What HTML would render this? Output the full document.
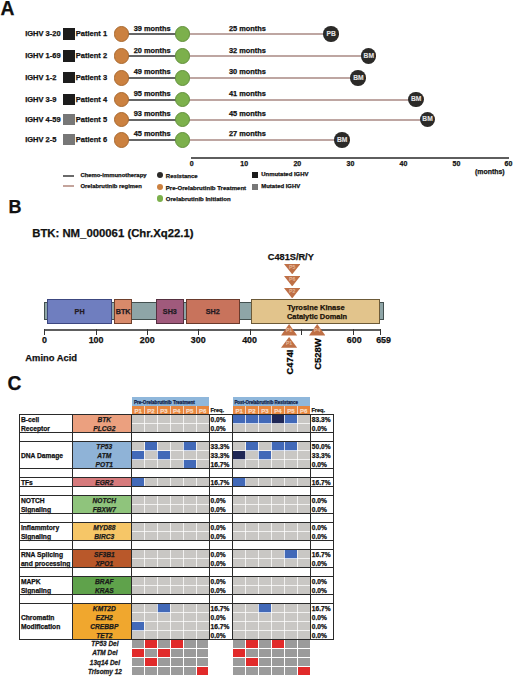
<!DOCTYPE html>
<html><head><meta charset="utf-8"><style>
html,body{margin:0;padding:0;background:#fff;}
body{width:520px;height:677px;position:relative;overflow:hidden;font-family:"Liberation Sans",sans-serif;}
.t{position:absolute;white-space:nowrap;line-height:1;font-weight:bold;-webkit-text-stroke:0.25px currentColor;}
.r{position:absolute;}
</style></head><body>
<div class="t" style="left:0.60px;top:-1.26px;font-size:19.3px;color:#111;">A</div>
<div class="t" style="left:25.20px;top:30.41px;font-size:7.5px;color:#111;">IGHV 3-20</div>
<div class="r" style="left:63.20px;top:28.20px;width:11.40px;height:11.40px;background:#1c1c1c;"></div>
<div class="t" style="left:75.80px;top:30.41px;font-size:7.5px;color:#111;">Patient 1</div>
<div class="r" style="left:121.80px;top:33.00px;width:60.70px;height:2.00px;background:#666666;"></div>
<div class="r" style="left:182.50px;top:33.00px;width:148.50px;height:2.00px;background:#bea6a2;"></div>
<div class="r" style="left:113.85px;top:26.25px;width:15.50px;height:15.50px;border-radius:50%;background:#cb8140;box-sizing:border-box;border:0.8px solid #a9692f;"></div>
<div class="r" style="left:174.85px;top:26.25px;width:15.50px;height:15.50px;border-radius:50%;background:#7cb04c;box-sizing:border-box;border:0.8px solid #62903c;"></div>
<div class="r" style="left:323.25px;top:26.25px;width:15.50px;height:15.50px;border-radius:50%;background:#2b2a28;"></div>
<div class="t" style="left:331.20px;top:30.74px;font-size:6.7px;color:#e4e4e4;transform:translateX(-50%);-webkit-text-stroke:0.1px #e4e4e4;">PB</div>
<div class="t" style="left:133.70px;top:24.63px;font-size:7.4px;color:#111;">39 months</div>
<div class="t" style="left:229.00px;top:24.63px;font-size:7.4px;color:#111;">25 months</div>
<div class="t" style="left:25.20px;top:52.41px;font-size:7.5px;color:#111;">IGHV 1-69</div>
<div class="r" style="left:63.20px;top:50.20px;width:11.40px;height:11.40px;background:#1c1c1c;"></div>
<div class="t" style="left:75.80px;top:52.41px;font-size:7.5px;color:#111;">Patient 2</div>
<div class="r" style="left:121.80px;top:55.00px;width:60.70px;height:2.00px;background:#666666;"></div>
<div class="r" style="left:182.50px;top:55.00px;width:186.10px;height:2.00px;background:#bea6a2;"></div>
<div class="r" style="left:113.85px;top:48.25px;width:15.50px;height:15.50px;border-radius:50%;background:#cb8140;box-sizing:border-box;border:0.8px solid #a9692f;"></div>
<div class="r" style="left:174.85px;top:48.25px;width:15.50px;height:15.50px;border-radius:50%;background:#7cb04c;box-sizing:border-box;border:0.8px solid #62903c;"></div>
<div class="r" style="left:360.85px;top:48.25px;width:15.50px;height:15.50px;border-radius:50%;background:#2b2a28;"></div>
<div class="t" style="left:368.80px;top:52.74px;font-size:6.7px;color:#e4e4e4;transform:translateX(-50%);-webkit-text-stroke:0.1px #e4e4e4;">BM</div>
<div class="t" style="left:133.70px;top:46.63px;font-size:7.4px;color:#111;">20 months</div>
<div class="t" style="left:229.00px;top:46.63px;font-size:7.4px;color:#111;">32 months</div>
<div class="t" style="left:25.20px;top:74.21px;font-size:7.5px;color:#111;">IGHV 1-2</div>
<div class="r" style="left:63.20px;top:72.00px;width:11.40px;height:11.40px;background:#1c1c1c;"></div>
<div class="t" style="left:75.80px;top:74.21px;font-size:7.5px;color:#111;">Patient 3</div>
<div class="r" style="left:121.80px;top:77.00px;width:60.70px;height:2.00px;background:#666666;"></div>
<div class="r" style="left:182.50px;top:77.00px;width:175.70px;height:2.00px;background:#bea6a2;"></div>
<div class="r" style="left:113.85px;top:70.05px;width:15.50px;height:15.50px;border-radius:50%;background:#cb8140;box-sizing:border-box;border:0.8px solid #a9692f;"></div>
<div class="r" style="left:174.85px;top:70.05px;width:15.50px;height:15.50px;border-radius:50%;background:#7cb04c;box-sizing:border-box;border:0.8px solid #62903c;"></div>
<div class="r" style="left:350.45px;top:70.05px;width:15.50px;height:15.50px;border-radius:50%;background:#2b2a28;"></div>
<div class="t" style="left:358.40px;top:74.54px;font-size:6.7px;color:#e4e4e4;transform:translateX(-50%);-webkit-text-stroke:0.1px #e4e4e4;">BM</div>
<div class="t" style="left:133.70px;top:68.43px;font-size:7.4px;color:#111;">49 months</div>
<div class="t" style="left:229.00px;top:68.43px;font-size:7.4px;color:#111;">30 months</div>
<div class="t" style="left:25.20px;top:96.01px;font-size:7.5px;color:#111;">IGHV 3-9</div>
<div class="r" style="left:63.20px;top:93.80px;width:11.40px;height:11.40px;background:#1c1c1c;"></div>
<div class="t" style="left:75.80px;top:96.01px;font-size:7.5px;color:#111;">Patient 4</div>
<div class="r" style="left:121.80px;top:99.00px;width:60.70px;height:2.00px;background:#666666;"></div>
<div class="r" style="left:182.50px;top:99.00px;width:233.50px;height:2.00px;background:#bea6a2;"></div>
<div class="r" style="left:113.85px;top:91.85px;width:15.50px;height:15.50px;border-radius:50%;background:#cb8140;box-sizing:border-box;border:0.8px solid #a9692f;"></div>
<div class="r" style="left:174.85px;top:91.85px;width:15.50px;height:15.50px;border-radius:50%;background:#7cb04c;box-sizing:border-box;border:0.8px solid #62903c;"></div>
<div class="r" style="left:408.25px;top:91.85px;width:15.50px;height:15.50px;border-radius:50%;background:#2b2a28;"></div>
<div class="t" style="left:416.20px;top:96.34px;font-size:6.7px;color:#e4e4e4;transform:translateX(-50%);-webkit-text-stroke:0.1px #e4e4e4;">BM</div>
<div class="t" style="left:133.70px;top:90.23px;font-size:7.4px;color:#111;">95 months</div>
<div class="t" style="left:229.00px;top:90.23px;font-size:7.4px;color:#111;">41 months</div>
<div class="t" style="left:25.20px;top:115.91px;font-size:7.5px;color:#111;">IGHV 4-59</div>
<div class="r" style="left:63.20px;top:113.70px;width:11.40px;height:11.40px;background:#777;"></div>
<div class="t" style="left:75.80px;top:115.91px;font-size:7.5px;color:#111;">Patient 5</div>
<div class="r" style="left:121.80px;top:119.00px;width:60.70px;height:2.00px;background:#666666;"></div>
<div class="r" style="left:182.50px;top:119.00px;width:244.80px;height:2.00px;background:#bea6a2;"></div>
<div class="r" style="left:113.85px;top:111.75px;width:15.50px;height:15.50px;border-radius:50%;background:#cb8140;box-sizing:border-box;border:0.8px solid #a9692f;"></div>
<div class="r" style="left:174.85px;top:111.75px;width:15.50px;height:15.50px;border-radius:50%;background:#7cb04c;box-sizing:border-box;border:0.8px solid #62903c;"></div>
<div class="r" style="left:419.55px;top:111.75px;width:15.50px;height:15.50px;border-radius:50%;background:#2b2a28;"></div>
<div class="t" style="left:427.50px;top:116.24px;font-size:6.7px;color:#e4e4e4;transform:translateX(-50%);-webkit-text-stroke:0.1px #e4e4e4;">BM</div>
<div class="t" style="left:133.70px;top:110.13px;font-size:7.4px;color:#111;">93 months</div>
<div class="t" style="left:229.00px;top:110.13px;font-size:7.4px;color:#111;">45 months</div>
<div class="t" style="left:25.20px;top:136.21px;font-size:7.5px;color:#111;">IGHV 2-5</div>
<div class="r" style="left:63.20px;top:134.00px;width:11.40px;height:11.40px;background:#777;"></div>
<div class="t" style="left:75.80px;top:136.21px;font-size:7.5px;color:#111;">Patient 6</div>
<div class="r" style="left:121.80px;top:139.00px;width:60.70px;height:2.00px;background:#666666;"></div>
<div class="r" style="left:182.50px;top:139.00px;width:159.50px;height:2.00px;background:#bea6a2;"></div>
<div class="r" style="left:113.85px;top:132.05px;width:15.50px;height:15.50px;border-radius:50%;background:#cb8140;box-sizing:border-box;border:0.8px solid #a9692f;"></div>
<div class="r" style="left:174.85px;top:132.05px;width:15.50px;height:15.50px;border-radius:50%;background:#7cb04c;box-sizing:border-box;border:0.8px solid #62903c;"></div>
<div class="r" style="left:334.25px;top:132.05px;width:15.50px;height:15.50px;border-radius:50%;background:#2b2a28;"></div>
<div class="t" style="left:342.20px;top:136.54px;font-size:6.7px;color:#e4e4e4;transform:translateX(-50%);-webkit-text-stroke:0.1px #e4e4e4;">BM</div>
<div class="t" style="left:133.70px;top:130.43px;font-size:7.4px;color:#111;">45 months</div>
<div class="t" style="left:229.00px;top:130.43px;font-size:7.4px;color:#111;">27 months</div>
<div class="r" style="left:190.50px;top:157.00px;width:318.50px;height:2.00px;background:#5e5e5e;"></div>
<div class="t" style="left:191.60px;top:159.69px;font-size:7.0px;color:#111;transform:translateX(-50%);">0</div>
<div class="t" style="left:244.20px;top:159.69px;font-size:7.0px;color:#111;transform:translateX(-50%);">10</div>
<div class="t" style="left:297.30px;top:159.69px;font-size:7.0px;color:#111;transform:translateX(-50%);">20</div>
<div class="t" style="left:350.50px;top:159.69px;font-size:7.0px;color:#111;transform:translateX(-50%);">30</div>
<div class="t" style="left:403.50px;top:159.69px;font-size:7.0px;color:#111;transform:translateX(-50%);">40</div>
<div class="t" style="left:456.50px;top:159.69px;font-size:7.0px;color:#111;transform:translateX(-50%);">50</div>
<div class="t" style="left:508.50px;top:159.69px;font-size:7.0px;color:#111;transform:translateX(-50%);">60</div>
<div class="t" style="left:475.00px;top:168.50px;font-size:6.95px;color:#111;">(months)</div>
<div class="r" style="left:62.90px;top:175.00px;width:10.80px;height:2.00px;background:#6a6a6a;"></div>
<div class="r" style="left:62.90px;top:185.30px;width:10.80px;height:1.50px;background:#c4a49c;"></div>
<div class="t" style="left:80.40px;top:173.16px;font-size:5.9px;color:#111;">Chemo-immunotherapy</div>
<div class="t" style="left:80.40px;top:183.76px;font-size:5.9px;color:#111;">Orelabrutinib regimen</div>
<div class="r" style="left:156.75px;top:171.75px;width:6.30px;height:6.30px;border-radius:50%;background:#2b2a28;"></div>
<div class="r" style="left:156.75px;top:183.75px;width:6.30px;height:6.30px;border-radius:50%;background:#cb8140;"></div>
<div class="r" style="left:156.75px;top:195.35px;width:6.30px;height:6.30px;border-radius:50%;background:#7cb04c;"></div>
<div class="t" style="left:165.80px;top:172.94px;font-size:6.05px;color:#111;">Resistance</div>
<div class="t" style="left:165.80px;top:184.54px;font-size:6.05px;color:#111;">Pre-Orelabrutinib Treatment</div>
<div class="t" style="left:165.80px;top:196.14px;font-size:6.05px;color:#111;">Orelabrutinib Initiation</div>
<div class="r" style="left:252.40px;top:172.00px;width:5.80px;height:6.00px;background:#1c1c1c;"></div>
<div class="r" style="left:252.40px;top:183.50px;width:5.80px;height:6.00px;background:#777;"></div>
<div class="t" style="left:261.30px;top:172.26px;font-size:5.95px;color:#111;">Unmutated IGHV</div>
<div class="t" style="left:261.30px;top:183.56px;font-size:5.95px;color:#111;">Mutated IGHV</div>
<div class="t" style="left:8.40px;top:197.84px;font-size:18.0px;color:#111;">B</div>
<div class="t" style="left:32.20px;top:227.70px;font-size:11.35px;color:#111;">BTK: NM_000061 (Chr.Xq22.1)</div>
<div class="r" style="left:43.80px;top:302.30px;width:340.40px;height:17.80px;background:#8ea5a7;box-sizing:border-box;border:1.4px solid #43504f;"></div>
<div class="r" style="left:46.90px;top:299.30px;width:65.40px;height:24.40px;background:#6f7ebf;box-sizing:border-box;border:1.3px solid #3c4780;"></div>
<div class="t" style="left:79.60px;top:308.06px;font-size:7.2px;color:#221a22;transform:translateX(-50%);">PH</div>
<div class="r" style="left:114.00px;top:299.30px;width:18.30px;height:24.40px;background:#d88a6a;box-sizing:border-box;border:1.3px solid #6e3f2c;"></div>
<div class="t" style="left:123.15px;top:308.06px;font-size:7.2px;color:#221a22;transform:translateX(-50%);">BTK</div>
<div class="r" style="left:155.60px;top:299.30px;width:28.50px;height:24.40px;background:#a05a7c;box-sizing:border-box;border:1.3px solid #553040;"></div>
<div class="t" style="left:169.85px;top:308.06px;font-size:7.2px;color:#221a22;transform:translateX(-50%);">SH3</div>
<div class="r" style="left:185.60px;top:299.30px;width:54.20px;height:24.40px;background:#c8735c;box-sizing:border-box;border:1.3px solid #6a3a2c;"></div>
<div class="t" style="left:212.70px;top:308.06px;font-size:7.2px;color:#221a22;transform:translateX(-50%);">SH2</div>
<div class="r" style="left:251.20px;top:299.30px;width:128.50px;height:24.40px;background:#e2c48c;box-sizing:border-box;border:1.3px solid #6c5a38;"></div>
<div class="t" style="left:287.20px;top:304.41px;font-size:7.5px;color:#1a1208;">Tyrosine Kinase</div>
<div class="t" style="left:287.00px;top:313.33px;font-size:7.4px;color:#1a1208;">Catalytic Domain</div>
<div class="r" style="left:44.60px;top:329.00px;width:336.00px;height:2.00px;background:#5e5e5e;"></div>
<div class="r" style="left:44.00px;top:329.00px;width:1.30px;height:6.00px;background:#333;"></div>
<div class="r" style="left:95.60px;top:329.00px;width:1.30px;height:6.00px;background:#333;"></div>
<div class="r" style="left:146.70px;top:329.00px;width:1.30px;height:6.00px;background:#333;"></div>
<div class="r" style="left:197.70px;top:329.00px;width:1.30px;height:6.00px;background:#333;"></div>
<div class="r" style="left:249.60px;top:329.00px;width:1.30px;height:6.00px;background:#333;"></div>
<div class="r" style="left:301.00px;top:329.00px;width:1.30px;height:6.00px;background:#333;"></div>
<div class="r" style="left:352.90px;top:329.00px;width:1.30px;height:6.00px;background:#333;"></div>
<div class="r" style="left:379.70px;top:329.00px;width:1.30px;height:6.00px;background:#333;"></div>
<div class="t" style="left:44.50px;top:336.49px;font-size:8.9px;color:#111;transform:translateX(-50%);">0</div>
<div class="t" style="left:96.10px;top:336.49px;font-size:8.9px;color:#111;transform:translateX(-50%);">100</div>
<div class="t" style="left:147.20px;top:336.49px;font-size:8.9px;color:#111;transform:translateX(-50%);">200</div>
<div class="t" style="left:198.20px;top:336.49px;font-size:8.9px;color:#111;transform:translateX(-50%);">300</div>
<div class="t" style="left:249.60px;top:336.49px;font-size:8.9px;color:#111;transform:translateX(-50%);">400</div>
<div class="t" style="left:354.20px;top:336.49px;font-size:8.9px;color:#111;transform:translateX(-50%);">600</div>
<div class="t" style="left:383.60px;top:336.49px;font-size:8.9px;color:#111;transform:translateX(-50%);">659</div>
<div class="t" style="left:25.30px;top:353.01px;font-size:9.4px;color:#111;">Amino Acid</div>
<svg class="r" style="left:284.00px;top:263.50px" width="16.40" height="10.30" viewBox="0 0 16.40 10.30"><polygon points="0,0 16.4,0 8.2,10.300000000000011" fill="#bf7046"/><text x="8.20" y="5.00" font-size="5.2" fill="#e6b899" text-anchor="middle" font-family="Liberation Sans" font-weight="bold">P5</text></svg>
<svg class="r" style="left:284.00px;top:275.60px" width="16.40" height="10.40" viewBox="0 0 16.40 10.40"><polygon points="0,0 16.4,0 8.2,10.399999999999977" fill="#bf7046"/><text x="8.20" y="5.00" font-size="5.2" fill="#e6b899" text-anchor="middle" font-family="Liberation Sans" font-weight="bold">P6</text></svg>
<svg class="r" style="left:284.00px;top:287.90px" width="16.40" height="10.40" viewBox="0 0 16.40 10.40"><polygon points="0,0 16.4,0 8.2,10.400000000000034" fill="#bf7046"/><text x="8.20" y="5.00" font-size="5.2" fill="#e6b899" text-anchor="middle" font-family="Liberation Sans" font-weight="bold">P2</text></svg>
<svg class="r" style="left:280.80px;top:324.00px" width="16.20" height="11.50" viewBox="0 0 16.20 11.50"><polygon points="8.1,0 16.2,11.5 0,11.5" fill="#bf7046"/><text x="8.10" y="8.50" font-size="5.2" fill="#e6b899" text-anchor="middle" font-family="Liberation Sans" font-weight="bold">P1</text></svg>
<svg class="r" style="left:280.80px;top:336.80px" width="16.20" height="10.80" viewBox="0 0 16.20 10.80"><polygon points="8.1,0 16.2,10.800000000000011 0,10.800000000000011" fill="#bf7046"/><text x="8.10" y="7.80" font-size="5.2" fill="#e6b899" text-anchor="middle" font-family="Liberation Sans" font-weight="bold">P1</text></svg>
<svg class="r" style="left:308.80px;top:324.00px" width="16.40" height="11.50" viewBox="0 0 16.40 11.50"><polygon points="8.2,0 16.4,11.5 0,11.5" fill="#bf7046"/><text x="8.20" y="8.50" font-size="5.2" fill="#e6b899" text-anchor="middle" font-family="Liberation Sans" font-weight="bold">P4</text></svg>
<div class="t" style="left:267.80px;top:252.74px;font-size:9.2px;color:#111;">C481S/R/Y</div>
<div class="t" style="left:290.5px;top:362.4px;font-size:9.3px;transform:translate(-50%,-50%) rotate(-90deg);">C474I</div>
<div class="t" style="left:317.9px;top:353.5px;font-size:9.5px;transform:translate(-50%,-50%) rotate(-90deg);">C528W</div>
<div class="t" style="left:7.60px;top:374.34px;font-size:19.3px;color:#111;">C</div>
<div class="r" style="left:131.60px;top:396.70px;width:77.40px;height:9.20px;background:#8fb7db;"></div>
<div class="r" style="left:232.60px;top:396.90px;width:77.60px;height:9.00px;background:#8fb7db;"></div>
<div class="t" style="left:133.90px;top:400.67px;font-size:4.6px;color:#14244a;">Pre-Orelabrutinib Treatment</div>
<div class="t" style="left:234.40px;top:400.79px;font-size:4.45px;color:#14244a;">Post-Orelabrutinib Resistance</div>
<div class="r" style="left:131.60px;top:406.20px;width:77.40px;height:8.00px;background:#e8873f;"></div>
<div class="t" style="left:138.05px;top:407.65px;font-size:6.0px;color:#f8dcc6;transform:translateX(-50%);">P1</div>
<div class="r" style="left:144.00px;top:406.10px;width:1.00px;height:8.00px;background:#f6d2b8;"></div>
<div class="t" style="left:150.95px;top:407.65px;font-size:6.0px;color:#f8dcc6;transform:translateX(-50%);">P2</div>
<div class="r" style="left:156.90px;top:406.10px;width:1.00px;height:8.00px;background:#f6d2b8;"></div>
<div class="t" style="left:163.85px;top:407.65px;font-size:6.0px;color:#f8dcc6;transform:translateX(-50%);">P3</div>
<div class="r" style="left:169.80px;top:406.10px;width:1.00px;height:8.00px;background:#f6d2b8;"></div>
<div class="t" style="left:176.75px;top:407.65px;font-size:6.0px;color:#f8dcc6;transform:translateX(-50%);">P4</div>
<div class="r" style="left:182.70px;top:406.10px;width:1.00px;height:8.00px;background:#f6d2b8;"></div>
<div class="t" style="left:189.65px;top:407.65px;font-size:6.0px;color:#f8dcc6;transform:translateX(-50%);">P5</div>
<div class="r" style="left:195.60px;top:406.10px;width:1.00px;height:8.00px;background:#f6d2b8;"></div>
<div class="t" style="left:202.55px;top:407.65px;font-size:6.0px;color:#f8dcc6;transform:translateX(-50%);">P6</div>
<div class="r" style="left:232.60px;top:406.20px;width:77.60px;height:8.00px;background:#e8873f;"></div>
<div class="t" style="left:239.07px;top:407.65px;font-size:6.0px;color:#f8dcc6;transform:translateX(-50%);">P1</div>
<div class="r" style="left:245.03px;top:406.10px;width:1.00px;height:8.00px;background:#f6d2b8;"></div>
<div class="t" style="left:252.00px;top:407.65px;font-size:6.0px;color:#f8dcc6;transform:translateX(-50%);">P2</div>
<div class="r" style="left:257.97px;top:406.10px;width:1.00px;height:8.00px;background:#f6d2b8;"></div>
<div class="t" style="left:264.93px;top:407.65px;font-size:6.0px;color:#f8dcc6;transform:translateX(-50%);">P3</div>
<div class="r" style="left:270.90px;top:406.10px;width:1.00px;height:8.00px;background:#f6d2b8;"></div>
<div class="t" style="left:277.87px;top:407.65px;font-size:6.0px;color:#f8dcc6;transform:translateX(-50%);">P4</div>
<div class="r" style="left:283.83px;top:406.10px;width:1.00px;height:8.00px;background:#f6d2b8;"></div>
<div class="t" style="left:290.80px;top:407.65px;font-size:6.0px;color:#f8dcc6;transform:translateX(-50%);">P5</div>
<div class="r" style="left:296.77px;top:406.10px;width:1.00px;height:8.00px;background:#f6d2b8;"></div>
<div class="t" style="left:303.73px;top:407.65px;font-size:6.0px;color:#f8dcc6;transform:translateX(-50%);">P6</div>
<div class="t" style="left:210.40px;top:408.41px;font-size:5.6px;color:#111;">Freq.</div>
<div class="t" style="left:311.40px;top:408.41px;font-size:5.6px;color:#111;">Freq.</div>
<div class="r" style="left:72.60px;top:414.60px;width:59.00px;height:18.00px;background:#eba07f;"></div>
<div class="t" style="left:20.90px;top:415.34px;font-size:6.7px;color:#111;line-height:9.1px;">B-cell<br>Receptor</div>
<div class="t" style="left:104.30px;top:416.94px;font-size:6.65px;color:#1a1a1a;font-style:italic;transform:translateX(-50%);">BTK</div>
<div class="r" style="left:131.60px;top:414.60px;width:77.40px;height:9.00px;background:#c9c7c4;"></div>
<div class="r" style="left:144.00px;top:414.60px;width:1.00px;height:9.00px;background:rgba(255,255,255,0.75);"></div>
<div class="r" style="left:156.90px;top:414.60px;width:1.00px;height:9.00px;background:rgba(255,255,255,0.75);"></div>
<div class="r" style="left:169.80px;top:414.60px;width:1.00px;height:9.00px;background:rgba(255,255,255,0.75);"></div>
<div class="r" style="left:182.70px;top:414.60px;width:1.00px;height:9.00px;background:rgba(255,255,255,0.75);"></div>
<div class="r" style="left:195.60px;top:414.60px;width:1.00px;height:9.00px;background:rgba(255,255,255,0.75);"></div>
<div class="r" style="left:232.60px;top:414.60px;width:77.60px;height:9.00px;background:#c9c7c4;"></div>
<div class="r" style="left:232.60px;top:414.60px;width:12.93px;height:9.00px;background:#4269b8;"></div>
<div class="r" style="left:245.53px;top:414.60px;width:12.93px;height:9.00px;background:#4269b8;"></div>
<div class="r" style="left:258.47px;top:414.60px;width:12.93px;height:9.00px;background:#4269b8;"></div>
<div class="r" style="left:271.40px;top:414.60px;width:12.93px;height:9.00px;background:#1f2756;"></div>
<div class="r" style="left:284.33px;top:414.60px;width:12.93px;height:9.00px;background:#4269b8;"></div>
<div class="r" style="left:245.03px;top:414.60px;width:1.00px;height:9.00px;background:rgba(255,255,255,0.75);"></div>
<div class="r" style="left:257.97px;top:414.60px;width:1.00px;height:9.00px;background:rgba(255,255,255,0.75);"></div>
<div class="r" style="left:270.90px;top:414.60px;width:1.00px;height:9.00px;background:rgba(255,255,255,0.75);"></div>
<div class="r" style="left:283.83px;top:414.60px;width:1.00px;height:9.00px;background:rgba(255,255,255,0.75);"></div>
<div class="r" style="left:296.77px;top:414.60px;width:1.00px;height:9.00px;background:rgba(255,255,255,0.75);"></div>
<div class="t" style="left:210.60px;top:417.05px;font-size:6.6px;color:#111;">0.0%</div>
<div class="t" style="left:311.80px;top:417.05px;font-size:6.6px;color:#111;">83.3%</div>
<div class="t" style="left:104.30px;top:425.94px;font-size:6.65px;color:#1a1a1a;font-style:italic;transform:translateX(-50%);">PLCG2</div>
<div class="r" style="left:131.60px;top:423.60px;width:77.40px;height:9.00px;background:#c9c7c4;"></div>
<div class="r" style="left:144.00px;top:423.60px;width:1.00px;height:9.00px;background:rgba(255,255,255,0.75);"></div>
<div class="r" style="left:156.90px;top:423.60px;width:1.00px;height:9.00px;background:rgba(255,255,255,0.75);"></div>
<div class="r" style="left:169.80px;top:423.60px;width:1.00px;height:9.00px;background:rgba(255,255,255,0.75);"></div>
<div class="r" style="left:182.70px;top:423.60px;width:1.00px;height:9.00px;background:rgba(255,255,255,0.75);"></div>
<div class="r" style="left:195.60px;top:423.60px;width:1.00px;height:9.00px;background:rgba(255,255,255,0.75);"></div>
<div class="r" style="left:131.60px;top:423.10px;width:77.40px;height:1.00px;background:rgba(255,255,255,0.75);"></div>
<div class="r" style="left:232.60px;top:423.60px;width:77.60px;height:9.00px;background:#c9c7c4;"></div>
<div class="r" style="left:245.03px;top:423.60px;width:1.00px;height:9.00px;background:rgba(255,255,255,0.75);"></div>
<div class="r" style="left:257.97px;top:423.60px;width:1.00px;height:9.00px;background:rgba(255,255,255,0.75);"></div>
<div class="r" style="left:270.90px;top:423.60px;width:1.00px;height:9.00px;background:rgba(255,255,255,0.75);"></div>
<div class="r" style="left:283.83px;top:423.60px;width:1.00px;height:9.00px;background:rgba(255,255,255,0.75);"></div>
<div class="r" style="left:296.77px;top:423.60px;width:1.00px;height:9.00px;background:rgba(255,255,255,0.75);"></div>
<div class="r" style="left:232.60px;top:423.10px;width:77.60px;height:1.00px;background:rgba(255,255,255,0.75);"></div>
<div class="t" style="left:210.60px;top:426.05px;font-size:6.6px;color:#111;">0.0%</div>
<div class="t" style="left:311.80px;top:426.05px;font-size:6.6px;color:#111;">0.0%</div>
<div class="r" style="left:72.60px;top:441.60px;width:59.00px;height:27.00px;background:#8fb3d7;"></div>
<div class="t" style="left:20.90px;top:452.54px;font-size:6.7px;color:#111;">DNA Damage</div>
<div class="t" style="left:104.30px;top:443.94px;font-size:6.65px;color:#1a1a1a;font-style:italic;transform:translateX(-50%);">TP53</div>
<div class="r" style="left:131.60px;top:441.60px;width:77.40px;height:9.00px;background:#c9c7c4;"></div>
<div class="r" style="left:144.50px;top:441.60px;width:12.90px;height:9.00px;background:#4269b8;"></div>
<div class="r" style="left:183.20px;top:441.60px;width:12.90px;height:9.00px;background:#4269b8;"></div>
<div class="r" style="left:144.00px;top:441.60px;width:1.00px;height:9.00px;background:rgba(255,255,255,0.75);"></div>
<div class="r" style="left:156.90px;top:441.60px;width:1.00px;height:9.00px;background:rgba(255,255,255,0.75);"></div>
<div class="r" style="left:169.80px;top:441.60px;width:1.00px;height:9.00px;background:rgba(255,255,255,0.75);"></div>
<div class="r" style="left:182.70px;top:441.60px;width:1.00px;height:9.00px;background:rgba(255,255,255,0.75);"></div>
<div class="r" style="left:195.60px;top:441.60px;width:1.00px;height:9.00px;background:rgba(255,255,255,0.75);"></div>
<div class="r" style="left:232.60px;top:441.60px;width:77.60px;height:9.00px;background:#c9c7c4;"></div>
<div class="r" style="left:245.53px;top:441.60px;width:12.93px;height:9.00px;background:#4269b8;"></div>
<div class="r" style="left:271.40px;top:441.60px;width:12.93px;height:9.00px;background:#4269b8;"></div>
<div class="r" style="left:284.33px;top:441.60px;width:12.93px;height:9.00px;background:#4269b8;"></div>
<div class="r" style="left:245.03px;top:441.60px;width:1.00px;height:9.00px;background:rgba(255,255,255,0.75);"></div>
<div class="r" style="left:257.97px;top:441.60px;width:1.00px;height:9.00px;background:rgba(255,255,255,0.75);"></div>
<div class="r" style="left:270.90px;top:441.60px;width:1.00px;height:9.00px;background:rgba(255,255,255,0.75);"></div>
<div class="r" style="left:283.83px;top:441.60px;width:1.00px;height:9.00px;background:rgba(255,255,255,0.75);"></div>
<div class="r" style="left:296.77px;top:441.60px;width:1.00px;height:9.00px;background:rgba(255,255,255,0.75);"></div>
<div class="t" style="left:210.60px;top:444.05px;font-size:6.6px;color:#111;">33.3%</div>
<div class="t" style="left:311.80px;top:444.05px;font-size:6.6px;color:#111;">50.0%</div>
<div class="t" style="left:104.30px;top:452.94px;font-size:6.65px;color:#1a1a1a;font-style:italic;transform:translateX(-50%);">ATM</div>
<div class="r" style="left:131.60px;top:450.60px;width:77.40px;height:9.00px;background:#c9c7c4;"></div>
<div class="r" style="left:131.60px;top:450.60px;width:12.90px;height:9.00px;background:#4269b8;"></div>
<div class="r" style="left:157.40px;top:450.60px;width:12.90px;height:9.00px;background:#4269b8;"></div>
<div class="r" style="left:144.00px;top:450.60px;width:1.00px;height:9.00px;background:rgba(255,255,255,0.75);"></div>
<div class="r" style="left:156.90px;top:450.60px;width:1.00px;height:9.00px;background:rgba(255,255,255,0.75);"></div>
<div class="r" style="left:169.80px;top:450.60px;width:1.00px;height:9.00px;background:rgba(255,255,255,0.75);"></div>
<div class="r" style="left:182.70px;top:450.60px;width:1.00px;height:9.00px;background:rgba(255,255,255,0.75);"></div>
<div class="r" style="left:195.60px;top:450.60px;width:1.00px;height:9.00px;background:rgba(255,255,255,0.75);"></div>
<div class="r" style="left:131.60px;top:450.10px;width:77.40px;height:1.00px;background:rgba(255,255,255,0.75);"></div>
<div class="r" style="left:232.60px;top:450.60px;width:77.60px;height:9.00px;background:#c9c7c4;"></div>
<div class="r" style="left:232.60px;top:450.60px;width:12.93px;height:9.00px;background:#1f2756;"></div>
<div class="r" style="left:258.47px;top:450.60px;width:12.93px;height:9.00px;background:#4269b8;"></div>
<div class="r" style="left:245.03px;top:450.60px;width:1.00px;height:9.00px;background:rgba(255,255,255,0.75);"></div>
<div class="r" style="left:257.97px;top:450.60px;width:1.00px;height:9.00px;background:rgba(255,255,255,0.75);"></div>
<div class="r" style="left:270.90px;top:450.60px;width:1.00px;height:9.00px;background:rgba(255,255,255,0.75);"></div>
<div class="r" style="left:283.83px;top:450.60px;width:1.00px;height:9.00px;background:rgba(255,255,255,0.75);"></div>
<div class="r" style="left:296.77px;top:450.60px;width:1.00px;height:9.00px;background:rgba(255,255,255,0.75);"></div>
<div class="r" style="left:232.60px;top:450.10px;width:77.60px;height:1.00px;background:rgba(255,255,255,0.75);"></div>
<div class="t" style="left:210.60px;top:453.05px;font-size:6.6px;color:#111;">33.3%</div>
<div class="t" style="left:311.80px;top:453.05px;font-size:6.6px;color:#111;">33.3%</div>
<div class="t" style="left:104.30px;top:461.94px;font-size:6.65px;color:#1a1a1a;font-style:italic;transform:translateX(-50%);">POT1</div>
<div class="r" style="left:131.60px;top:459.60px;width:77.40px;height:9.00px;background:#c9c7c4;"></div>
<div class="r" style="left:183.20px;top:459.60px;width:12.90px;height:9.00px;background:#4269b8;"></div>
<div class="r" style="left:144.00px;top:459.60px;width:1.00px;height:9.00px;background:rgba(255,255,255,0.75);"></div>
<div class="r" style="left:156.90px;top:459.60px;width:1.00px;height:9.00px;background:rgba(255,255,255,0.75);"></div>
<div class="r" style="left:169.80px;top:459.60px;width:1.00px;height:9.00px;background:rgba(255,255,255,0.75);"></div>
<div class="r" style="left:182.70px;top:459.60px;width:1.00px;height:9.00px;background:rgba(255,255,255,0.75);"></div>
<div class="r" style="left:195.60px;top:459.60px;width:1.00px;height:9.00px;background:rgba(255,255,255,0.75);"></div>
<div class="r" style="left:131.60px;top:459.10px;width:77.40px;height:1.00px;background:rgba(255,255,255,0.75);"></div>
<div class="r" style="left:232.60px;top:459.60px;width:77.60px;height:9.00px;background:#c9c7c4;"></div>
<div class="r" style="left:245.03px;top:459.60px;width:1.00px;height:9.00px;background:rgba(255,255,255,0.75);"></div>
<div class="r" style="left:257.97px;top:459.60px;width:1.00px;height:9.00px;background:rgba(255,255,255,0.75);"></div>
<div class="r" style="left:270.90px;top:459.60px;width:1.00px;height:9.00px;background:rgba(255,255,255,0.75);"></div>
<div class="r" style="left:283.83px;top:459.60px;width:1.00px;height:9.00px;background:rgba(255,255,255,0.75);"></div>
<div class="r" style="left:296.77px;top:459.60px;width:1.00px;height:9.00px;background:rgba(255,255,255,0.75);"></div>
<div class="r" style="left:232.60px;top:459.10px;width:77.60px;height:1.00px;background:rgba(255,255,255,0.75);"></div>
<div class="t" style="left:210.60px;top:462.05px;font-size:6.6px;color:#111;">16.7%</div>
<div class="t" style="left:311.80px;top:462.05px;font-size:6.6px;color:#111;">0.0%</div>
<div class="r" style="left:72.60px;top:477.60px;width:59.00px;height:9.00px;background:#d67a7c;"></div>
<div class="t" style="left:20.90px;top:479.54px;font-size:6.7px;color:#111;">TFs</div>
<div class="t" style="left:104.30px;top:479.94px;font-size:6.65px;color:#1a1a1a;font-style:italic;transform:translateX(-50%);">EGR2</div>
<div class="r" style="left:131.60px;top:477.60px;width:77.40px;height:9.00px;background:#c9c7c4;"></div>
<div class="r" style="left:131.60px;top:477.60px;width:12.90px;height:9.00px;background:#4269b8;"></div>
<div class="r" style="left:144.00px;top:477.60px;width:1.00px;height:9.00px;background:rgba(255,255,255,0.75);"></div>
<div class="r" style="left:156.90px;top:477.60px;width:1.00px;height:9.00px;background:rgba(255,255,255,0.75);"></div>
<div class="r" style="left:169.80px;top:477.60px;width:1.00px;height:9.00px;background:rgba(255,255,255,0.75);"></div>
<div class="r" style="left:182.70px;top:477.60px;width:1.00px;height:9.00px;background:rgba(255,255,255,0.75);"></div>
<div class="r" style="left:195.60px;top:477.60px;width:1.00px;height:9.00px;background:rgba(255,255,255,0.75);"></div>
<div class="r" style="left:232.60px;top:477.60px;width:77.60px;height:9.00px;background:#c9c7c4;"></div>
<div class="r" style="left:232.60px;top:477.60px;width:12.93px;height:9.00px;background:#4269b8;"></div>
<div class="r" style="left:245.03px;top:477.60px;width:1.00px;height:9.00px;background:rgba(255,255,255,0.75);"></div>
<div class="r" style="left:257.97px;top:477.60px;width:1.00px;height:9.00px;background:rgba(255,255,255,0.75);"></div>
<div class="r" style="left:270.90px;top:477.60px;width:1.00px;height:9.00px;background:rgba(255,255,255,0.75);"></div>
<div class="r" style="left:283.83px;top:477.60px;width:1.00px;height:9.00px;background:rgba(255,255,255,0.75);"></div>
<div class="r" style="left:296.77px;top:477.60px;width:1.00px;height:9.00px;background:rgba(255,255,255,0.75);"></div>
<div class="t" style="left:210.60px;top:480.05px;font-size:6.6px;color:#111;">16.7%</div>
<div class="t" style="left:311.80px;top:480.05px;font-size:6.6px;color:#111;">16.7%</div>
<div class="r" style="left:72.60px;top:495.60px;width:59.00px;height:18.00px;background:#8fc47c;"></div>
<div class="t" style="left:20.90px;top:496.34px;font-size:6.7px;color:#111;line-height:9.1px;">NOTCH<br>Signaling</div>
<div class="t" style="left:104.30px;top:497.94px;font-size:6.65px;color:#1a1a1a;font-style:italic;transform:translateX(-50%);">NOTCH</div>
<div class="r" style="left:131.60px;top:495.60px;width:77.40px;height:9.00px;background:#c9c7c4;"></div>
<div class="r" style="left:144.00px;top:495.60px;width:1.00px;height:9.00px;background:rgba(255,255,255,0.75);"></div>
<div class="r" style="left:156.90px;top:495.60px;width:1.00px;height:9.00px;background:rgba(255,255,255,0.75);"></div>
<div class="r" style="left:169.80px;top:495.60px;width:1.00px;height:9.00px;background:rgba(255,255,255,0.75);"></div>
<div class="r" style="left:182.70px;top:495.60px;width:1.00px;height:9.00px;background:rgba(255,255,255,0.75);"></div>
<div class="r" style="left:195.60px;top:495.60px;width:1.00px;height:9.00px;background:rgba(255,255,255,0.75);"></div>
<div class="r" style="left:232.60px;top:495.60px;width:77.60px;height:9.00px;background:#c9c7c4;"></div>
<div class="r" style="left:245.03px;top:495.60px;width:1.00px;height:9.00px;background:rgba(255,255,255,0.75);"></div>
<div class="r" style="left:257.97px;top:495.60px;width:1.00px;height:9.00px;background:rgba(255,255,255,0.75);"></div>
<div class="r" style="left:270.90px;top:495.60px;width:1.00px;height:9.00px;background:rgba(255,255,255,0.75);"></div>
<div class="r" style="left:283.83px;top:495.60px;width:1.00px;height:9.00px;background:rgba(255,255,255,0.75);"></div>
<div class="r" style="left:296.77px;top:495.60px;width:1.00px;height:9.00px;background:rgba(255,255,255,0.75);"></div>
<div class="t" style="left:210.60px;top:498.05px;font-size:6.6px;color:#111;">0.0%</div>
<div class="t" style="left:311.80px;top:498.05px;font-size:6.6px;color:#111;">0.0%</div>
<div class="t" style="left:104.30px;top:506.94px;font-size:6.65px;color:#1a1a1a;font-style:italic;transform:translateX(-50%);">FBXW7</div>
<div class="r" style="left:131.60px;top:504.60px;width:77.40px;height:9.00px;background:#c9c7c4;"></div>
<div class="r" style="left:144.00px;top:504.60px;width:1.00px;height:9.00px;background:rgba(255,255,255,0.75);"></div>
<div class="r" style="left:156.90px;top:504.60px;width:1.00px;height:9.00px;background:rgba(255,255,255,0.75);"></div>
<div class="r" style="left:169.80px;top:504.60px;width:1.00px;height:9.00px;background:rgba(255,255,255,0.75);"></div>
<div class="r" style="left:182.70px;top:504.60px;width:1.00px;height:9.00px;background:rgba(255,255,255,0.75);"></div>
<div class="r" style="left:195.60px;top:504.60px;width:1.00px;height:9.00px;background:rgba(255,255,255,0.75);"></div>
<div class="r" style="left:131.60px;top:504.10px;width:77.40px;height:1.00px;background:rgba(255,255,255,0.75);"></div>
<div class="r" style="left:232.60px;top:504.60px;width:77.60px;height:9.00px;background:#c9c7c4;"></div>
<div class="r" style="left:245.03px;top:504.60px;width:1.00px;height:9.00px;background:rgba(255,255,255,0.75);"></div>
<div class="r" style="left:257.97px;top:504.60px;width:1.00px;height:9.00px;background:rgba(255,255,255,0.75);"></div>
<div class="r" style="left:270.90px;top:504.60px;width:1.00px;height:9.00px;background:rgba(255,255,255,0.75);"></div>
<div class="r" style="left:283.83px;top:504.60px;width:1.00px;height:9.00px;background:rgba(255,255,255,0.75);"></div>
<div class="r" style="left:296.77px;top:504.60px;width:1.00px;height:9.00px;background:rgba(255,255,255,0.75);"></div>
<div class="r" style="left:232.60px;top:504.10px;width:77.60px;height:1.00px;background:rgba(255,255,255,0.75);"></div>
<div class="t" style="left:210.60px;top:507.05px;font-size:6.6px;color:#111;">0.0%</div>
<div class="t" style="left:311.80px;top:507.05px;font-size:6.6px;color:#111;">0.0%</div>
<div class="r" style="left:72.60px;top:522.60px;width:59.00px;height:18.00px;background:#f6c667;"></div>
<div class="t" style="left:20.90px;top:523.34px;font-size:6.7px;color:#111;line-height:9.1px;">Inflammtory<br>Signaling</div>
<div class="t" style="left:104.30px;top:524.94px;font-size:6.65px;color:#1a1a1a;font-style:italic;transform:translateX(-50%);">MYD88</div>
<div class="r" style="left:131.60px;top:522.60px;width:77.40px;height:9.00px;background:#c9c7c4;"></div>
<div class="r" style="left:144.00px;top:522.60px;width:1.00px;height:9.00px;background:rgba(255,255,255,0.75);"></div>
<div class="r" style="left:156.90px;top:522.60px;width:1.00px;height:9.00px;background:rgba(255,255,255,0.75);"></div>
<div class="r" style="left:169.80px;top:522.60px;width:1.00px;height:9.00px;background:rgba(255,255,255,0.75);"></div>
<div class="r" style="left:182.70px;top:522.60px;width:1.00px;height:9.00px;background:rgba(255,255,255,0.75);"></div>
<div class="r" style="left:195.60px;top:522.60px;width:1.00px;height:9.00px;background:rgba(255,255,255,0.75);"></div>
<div class="r" style="left:232.60px;top:522.60px;width:77.60px;height:9.00px;background:#c9c7c4;"></div>
<div class="r" style="left:245.03px;top:522.60px;width:1.00px;height:9.00px;background:rgba(255,255,255,0.75);"></div>
<div class="r" style="left:257.97px;top:522.60px;width:1.00px;height:9.00px;background:rgba(255,255,255,0.75);"></div>
<div class="r" style="left:270.90px;top:522.60px;width:1.00px;height:9.00px;background:rgba(255,255,255,0.75);"></div>
<div class="r" style="left:283.83px;top:522.60px;width:1.00px;height:9.00px;background:rgba(255,255,255,0.75);"></div>
<div class="r" style="left:296.77px;top:522.60px;width:1.00px;height:9.00px;background:rgba(255,255,255,0.75);"></div>
<div class="t" style="left:210.60px;top:525.05px;font-size:6.6px;color:#111;">0.0%</div>
<div class="t" style="left:311.80px;top:525.05px;font-size:6.6px;color:#111;">0.0%</div>
<div class="t" style="left:104.30px;top:533.94px;font-size:6.65px;color:#1a1a1a;font-style:italic;transform:translateX(-50%);">BIRC3</div>
<div class="r" style="left:131.60px;top:531.60px;width:77.40px;height:9.00px;background:#c9c7c4;"></div>
<div class="r" style="left:144.00px;top:531.60px;width:1.00px;height:9.00px;background:rgba(255,255,255,0.75);"></div>
<div class="r" style="left:156.90px;top:531.60px;width:1.00px;height:9.00px;background:rgba(255,255,255,0.75);"></div>
<div class="r" style="left:169.80px;top:531.60px;width:1.00px;height:9.00px;background:rgba(255,255,255,0.75);"></div>
<div class="r" style="left:182.70px;top:531.60px;width:1.00px;height:9.00px;background:rgba(255,255,255,0.75);"></div>
<div class="r" style="left:195.60px;top:531.60px;width:1.00px;height:9.00px;background:rgba(255,255,255,0.75);"></div>
<div class="r" style="left:131.60px;top:531.10px;width:77.40px;height:1.00px;background:rgba(255,255,255,0.75);"></div>
<div class="r" style="left:232.60px;top:531.60px;width:77.60px;height:9.00px;background:#c9c7c4;"></div>
<div class="r" style="left:245.03px;top:531.60px;width:1.00px;height:9.00px;background:rgba(255,255,255,0.75);"></div>
<div class="r" style="left:257.97px;top:531.60px;width:1.00px;height:9.00px;background:rgba(255,255,255,0.75);"></div>
<div class="r" style="left:270.90px;top:531.60px;width:1.00px;height:9.00px;background:rgba(255,255,255,0.75);"></div>
<div class="r" style="left:283.83px;top:531.60px;width:1.00px;height:9.00px;background:rgba(255,255,255,0.75);"></div>
<div class="r" style="left:296.77px;top:531.60px;width:1.00px;height:9.00px;background:rgba(255,255,255,0.75);"></div>
<div class="r" style="left:232.60px;top:531.10px;width:77.60px;height:1.00px;background:rgba(255,255,255,0.75);"></div>
<div class="t" style="left:210.60px;top:534.05px;font-size:6.6px;color:#111;">0.0%</div>
<div class="t" style="left:311.80px;top:534.05px;font-size:6.6px;color:#111;">0.0%</div>
<div class="r" style="left:72.60px;top:549.60px;width:59.00px;height:18.00px;background:#b9582a;"></div>
<div class="t" style="left:20.90px;top:550.34px;font-size:6.7px;color:#111;line-height:9.1px;">RNA Splicing<br>and processing</div>
<div class="t" style="left:104.30px;top:551.94px;font-size:6.65px;color:#1a1a1a;font-style:italic;transform:translateX(-50%);">SF3B1</div>
<div class="r" style="left:131.60px;top:549.60px;width:77.40px;height:9.00px;background:#c9c7c4;"></div>
<div class="r" style="left:144.00px;top:549.60px;width:1.00px;height:9.00px;background:rgba(255,255,255,0.75);"></div>
<div class="r" style="left:156.90px;top:549.60px;width:1.00px;height:9.00px;background:rgba(255,255,255,0.75);"></div>
<div class="r" style="left:169.80px;top:549.60px;width:1.00px;height:9.00px;background:rgba(255,255,255,0.75);"></div>
<div class="r" style="left:182.70px;top:549.60px;width:1.00px;height:9.00px;background:rgba(255,255,255,0.75);"></div>
<div class="r" style="left:195.60px;top:549.60px;width:1.00px;height:9.00px;background:rgba(255,255,255,0.75);"></div>
<div class="r" style="left:232.60px;top:549.60px;width:77.60px;height:9.00px;background:#c9c7c4;"></div>
<div class="r" style="left:284.33px;top:549.60px;width:12.93px;height:9.00px;background:#4269b8;"></div>
<div class="r" style="left:245.03px;top:549.60px;width:1.00px;height:9.00px;background:rgba(255,255,255,0.75);"></div>
<div class="r" style="left:257.97px;top:549.60px;width:1.00px;height:9.00px;background:rgba(255,255,255,0.75);"></div>
<div class="r" style="left:270.90px;top:549.60px;width:1.00px;height:9.00px;background:rgba(255,255,255,0.75);"></div>
<div class="r" style="left:283.83px;top:549.60px;width:1.00px;height:9.00px;background:rgba(255,255,255,0.75);"></div>
<div class="r" style="left:296.77px;top:549.60px;width:1.00px;height:9.00px;background:rgba(255,255,255,0.75);"></div>
<div class="t" style="left:210.60px;top:552.05px;font-size:6.6px;color:#111;">0.0%</div>
<div class="t" style="left:311.80px;top:552.05px;font-size:6.6px;color:#111;">16.7%</div>
<div class="t" style="left:104.30px;top:560.94px;font-size:6.65px;color:#1a1a1a;font-style:italic;transform:translateX(-50%);">XPO1</div>
<div class="r" style="left:131.60px;top:558.60px;width:77.40px;height:9.00px;background:#c9c7c4;"></div>
<div class="r" style="left:144.00px;top:558.60px;width:1.00px;height:9.00px;background:rgba(255,255,255,0.75);"></div>
<div class="r" style="left:156.90px;top:558.60px;width:1.00px;height:9.00px;background:rgba(255,255,255,0.75);"></div>
<div class="r" style="left:169.80px;top:558.60px;width:1.00px;height:9.00px;background:rgba(255,255,255,0.75);"></div>
<div class="r" style="left:182.70px;top:558.60px;width:1.00px;height:9.00px;background:rgba(255,255,255,0.75);"></div>
<div class="r" style="left:195.60px;top:558.60px;width:1.00px;height:9.00px;background:rgba(255,255,255,0.75);"></div>
<div class="r" style="left:131.60px;top:558.10px;width:77.40px;height:1.00px;background:rgba(255,255,255,0.75);"></div>
<div class="r" style="left:232.60px;top:558.60px;width:77.60px;height:9.00px;background:#c9c7c4;"></div>
<div class="r" style="left:245.03px;top:558.60px;width:1.00px;height:9.00px;background:rgba(255,255,255,0.75);"></div>
<div class="r" style="left:257.97px;top:558.60px;width:1.00px;height:9.00px;background:rgba(255,255,255,0.75);"></div>
<div class="r" style="left:270.90px;top:558.60px;width:1.00px;height:9.00px;background:rgba(255,255,255,0.75);"></div>
<div class="r" style="left:283.83px;top:558.60px;width:1.00px;height:9.00px;background:rgba(255,255,255,0.75);"></div>
<div class="r" style="left:296.77px;top:558.60px;width:1.00px;height:9.00px;background:rgba(255,255,255,0.75);"></div>
<div class="r" style="left:232.60px;top:558.10px;width:77.60px;height:1.00px;background:rgba(255,255,255,0.75);"></div>
<div class="t" style="left:210.60px;top:561.05px;font-size:6.6px;color:#111;">0.0%</div>
<div class="t" style="left:311.80px;top:561.05px;font-size:6.6px;color:#111;">0.0%</div>
<div class="r" style="left:72.60px;top:576.60px;width:59.00px;height:18.00px;background:#5fa24b;"></div>
<div class="t" style="left:20.90px;top:577.34px;font-size:6.7px;color:#111;line-height:9.1px;">MAPK<br>Signaling</div>
<div class="t" style="left:104.30px;top:578.94px;font-size:6.65px;color:#1a1a1a;font-style:italic;transform:translateX(-50%);">BRAF</div>
<div class="r" style="left:131.60px;top:576.60px;width:77.40px;height:9.00px;background:#c9c7c4;"></div>
<div class="r" style="left:144.00px;top:576.60px;width:1.00px;height:9.00px;background:rgba(255,255,255,0.75);"></div>
<div class="r" style="left:156.90px;top:576.60px;width:1.00px;height:9.00px;background:rgba(255,255,255,0.75);"></div>
<div class="r" style="left:169.80px;top:576.60px;width:1.00px;height:9.00px;background:rgba(255,255,255,0.75);"></div>
<div class="r" style="left:182.70px;top:576.60px;width:1.00px;height:9.00px;background:rgba(255,255,255,0.75);"></div>
<div class="r" style="left:195.60px;top:576.60px;width:1.00px;height:9.00px;background:rgba(255,255,255,0.75);"></div>
<div class="r" style="left:232.60px;top:576.60px;width:77.60px;height:9.00px;background:#c9c7c4;"></div>
<div class="r" style="left:245.03px;top:576.60px;width:1.00px;height:9.00px;background:rgba(255,255,255,0.75);"></div>
<div class="r" style="left:257.97px;top:576.60px;width:1.00px;height:9.00px;background:rgba(255,255,255,0.75);"></div>
<div class="r" style="left:270.90px;top:576.60px;width:1.00px;height:9.00px;background:rgba(255,255,255,0.75);"></div>
<div class="r" style="left:283.83px;top:576.60px;width:1.00px;height:9.00px;background:rgba(255,255,255,0.75);"></div>
<div class="r" style="left:296.77px;top:576.60px;width:1.00px;height:9.00px;background:rgba(255,255,255,0.75);"></div>
<div class="t" style="left:210.60px;top:579.05px;font-size:6.6px;color:#111;">0.0%</div>
<div class="t" style="left:311.80px;top:579.05px;font-size:6.6px;color:#111;">0.0%</div>
<div class="t" style="left:104.30px;top:587.94px;font-size:6.65px;color:#1a1a1a;font-style:italic;transform:translateX(-50%);">KRAS</div>
<div class="r" style="left:131.60px;top:585.60px;width:77.40px;height:9.00px;background:#c9c7c4;"></div>
<div class="r" style="left:144.00px;top:585.60px;width:1.00px;height:9.00px;background:rgba(255,255,255,0.75);"></div>
<div class="r" style="left:156.90px;top:585.60px;width:1.00px;height:9.00px;background:rgba(255,255,255,0.75);"></div>
<div class="r" style="left:169.80px;top:585.60px;width:1.00px;height:9.00px;background:rgba(255,255,255,0.75);"></div>
<div class="r" style="left:182.70px;top:585.60px;width:1.00px;height:9.00px;background:rgba(255,255,255,0.75);"></div>
<div class="r" style="left:195.60px;top:585.60px;width:1.00px;height:9.00px;background:rgba(255,255,255,0.75);"></div>
<div class="r" style="left:131.60px;top:585.10px;width:77.40px;height:1.00px;background:rgba(255,255,255,0.75);"></div>
<div class="r" style="left:232.60px;top:585.60px;width:77.60px;height:9.00px;background:#c9c7c4;"></div>
<div class="r" style="left:245.03px;top:585.60px;width:1.00px;height:9.00px;background:rgba(255,255,255,0.75);"></div>
<div class="r" style="left:257.97px;top:585.60px;width:1.00px;height:9.00px;background:rgba(255,255,255,0.75);"></div>
<div class="r" style="left:270.90px;top:585.60px;width:1.00px;height:9.00px;background:rgba(255,255,255,0.75);"></div>
<div class="r" style="left:283.83px;top:585.60px;width:1.00px;height:9.00px;background:rgba(255,255,255,0.75);"></div>
<div class="r" style="left:296.77px;top:585.60px;width:1.00px;height:9.00px;background:rgba(255,255,255,0.75);"></div>
<div class="r" style="left:232.60px;top:585.10px;width:77.60px;height:1.00px;background:rgba(255,255,255,0.75);"></div>
<div class="t" style="left:210.60px;top:588.05px;font-size:6.6px;color:#111;">0.0%</div>
<div class="t" style="left:311.80px;top:588.05px;font-size:6.6px;color:#111;">0.0%</div>
<div class="r" style="left:72.60px;top:603.60px;width:59.00px;height:36.00px;background:#f0a72e;"></div>
<div class="t" style="left:20.90px;top:613.04px;font-size:6.7px;color:#111;line-height:9.1px;">Chromatin<br>Modification</div>
<div class="t" style="left:104.30px;top:605.94px;font-size:6.65px;color:#1a1a1a;font-style:italic;transform:translateX(-50%);">KMT2D</div>
<div class="r" style="left:131.60px;top:603.60px;width:77.40px;height:9.00px;background:#c9c7c4;"></div>
<div class="r" style="left:157.40px;top:603.60px;width:12.90px;height:9.00px;background:#4269b8;"></div>
<div class="r" style="left:144.00px;top:603.60px;width:1.00px;height:9.00px;background:rgba(255,255,255,0.75);"></div>
<div class="r" style="left:156.90px;top:603.60px;width:1.00px;height:9.00px;background:rgba(255,255,255,0.75);"></div>
<div class="r" style="left:169.80px;top:603.60px;width:1.00px;height:9.00px;background:rgba(255,255,255,0.75);"></div>
<div class="r" style="left:182.70px;top:603.60px;width:1.00px;height:9.00px;background:rgba(255,255,255,0.75);"></div>
<div class="r" style="left:195.60px;top:603.60px;width:1.00px;height:9.00px;background:rgba(255,255,255,0.75);"></div>
<div class="r" style="left:232.60px;top:603.60px;width:77.60px;height:9.00px;background:#c9c7c4;"></div>
<div class="r" style="left:258.47px;top:603.60px;width:12.93px;height:9.00px;background:#4269b8;"></div>
<div class="r" style="left:245.03px;top:603.60px;width:1.00px;height:9.00px;background:rgba(255,255,255,0.75);"></div>
<div class="r" style="left:257.97px;top:603.60px;width:1.00px;height:9.00px;background:rgba(255,255,255,0.75);"></div>
<div class="r" style="left:270.90px;top:603.60px;width:1.00px;height:9.00px;background:rgba(255,255,255,0.75);"></div>
<div class="r" style="left:283.83px;top:603.60px;width:1.00px;height:9.00px;background:rgba(255,255,255,0.75);"></div>
<div class="r" style="left:296.77px;top:603.60px;width:1.00px;height:9.00px;background:rgba(255,255,255,0.75);"></div>
<div class="t" style="left:210.60px;top:606.05px;font-size:6.6px;color:#111;">16.7%</div>
<div class="t" style="left:311.80px;top:606.05px;font-size:6.6px;color:#111;">16.7%</div>
<div class="t" style="left:104.30px;top:614.94px;font-size:6.65px;color:#1a1a1a;font-style:italic;transform:translateX(-50%);">EZH2</div>
<div class="r" style="left:131.60px;top:612.60px;width:77.40px;height:9.00px;background:#c9c7c4;"></div>
<div class="r" style="left:144.00px;top:612.60px;width:1.00px;height:9.00px;background:rgba(255,255,255,0.75);"></div>
<div class="r" style="left:156.90px;top:612.60px;width:1.00px;height:9.00px;background:rgba(255,255,255,0.75);"></div>
<div class="r" style="left:169.80px;top:612.60px;width:1.00px;height:9.00px;background:rgba(255,255,255,0.75);"></div>
<div class="r" style="left:182.70px;top:612.60px;width:1.00px;height:9.00px;background:rgba(255,255,255,0.75);"></div>
<div class="r" style="left:195.60px;top:612.60px;width:1.00px;height:9.00px;background:rgba(255,255,255,0.75);"></div>
<div class="r" style="left:131.60px;top:612.10px;width:77.40px;height:1.00px;background:rgba(255,255,255,0.75);"></div>
<div class="r" style="left:232.60px;top:612.60px;width:77.60px;height:9.00px;background:#c9c7c4;"></div>
<div class="r" style="left:245.03px;top:612.60px;width:1.00px;height:9.00px;background:rgba(255,255,255,0.75);"></div>
<div class="r" style="left:257.97px;top:612.60px;width:1.00px;height:9.00px;background:rgba(255,255,255,0.75);"></div>
<div class="r" style="left:270.90px;top:612.60px;width:1.00px;height:9.00px;background:rgba(255,255,255,0.75);"></div>
<div class="r" style="left:283.83px;top:612.60px;width:1.00px;height:9.00px;background:rgba(255,255,255,0.75);"></div>
<div class="r" style="left:296.77px;top:612.60px;width:1.00px;height:9.00px;background:rgba(255,255,255,0.75);"></div>
<div class="r" style="left:232.60px;top:612.10px;width:77.60px;height:1.00px;background:rgba(255,255,255,0.75);"></div>
<div class="t" style="left:210.60px;top:615.05px;font-size:6.6px;color:#111;">0.0%</div>
<div class="t" style="left:311.80px;top:615.05px;font-size:6.6px;color:#111;">0.0%</div>
<div class="t" style="left:104.30px;top:623.94px;font-size:6.65px;color:#1a1a1a;font-style:italic;transform:translateX(-50%);">CREBBP</div>
<div class="r" style="left:131.60px;top:621.60px;width:77.40px;height:9.00px;background:#c9c7c4;"></div>
<div class="r" style="left:131.60px;top:621.60px;width:12.90px;height:9.00px;background:#4269b8;"></div>
<div class="r" style="left:144.00px;top:621.60px;width:1.00px;height:9.00px;background:rgba(255,255,255,0.75);"></div>
<div class="r" style="left:156.90px;top:621.60px;width:1.00px;height:9.00px;background:rgba(255,255,255,0.75);"></div>
<div class="r" style="left:169.80px;top:621.60px;width:1.00px;height:9.00px;background:rgba(255,255,255,0.75);"></div>
<div class="r" style="left:182.70px;top:621.60px;width:1.00px;height:9.00px;background:rgba(255,255,255,0.75);"></div>
<div class="r" style="left:195.60px;top:621.60px;width:1.00px;height:9.00px;background:rgba(255,255,255,0.75);"></div>
<div class="r" style="left:131.60px;top:621.10px;width:77.40px;height:1.00px;background:rgba(255,255,255,0.75);"></div>
<div class="r" style="left:232.60px;top:621.60px;width:77.60px;height:9.00px;background:#c9c7c4;"></div>
<div class="r" style="left:245.03px;top:621.60px;width:1.00px;height:9.00px;background:rgba(255,255,255,0.75);"></div>
<div class="r" style="left:257.97px;top:621.60px;width:1.00px;height:9.00px;background:rgba(255,255,255,0.75);"></div>
<div class="r" style="left:270.90px;top:621.60px;width:1.00px;height:9.00px;background:rgba(255,255,255,0.75);"></div>
<div class="r" style="left:283.83px;top:621.60px;width:1.00px;height:9.00px;background:rgba(255,255,255,0.75);"></div>
<div class="r" style="left:296.77px;top:621.60px;width:1.00px;height:9.00px;background:rgba(255,255,255,0.75);"></div>
<div class="r" style="left:232.60px;top:621.10px;width:77.60px;height:1.00px;background:rgba(255,255,255,0.75);"></div>
<div class="t" style="left:210.60px;top:624.05px;font-size:6.6px;color:#111;">16.7%</div>
<div class="t" style="left:311.80px;top:624.05px;font-size:6.6px;color:#111;">0.0%</div>
<div class="t" style="left:104.30px;top:632.94px;font-size:6.65px;color:#1a1a1a;font-style:italic;transform:translateX(-50%);">TET2</div>
<div class="r" style="left:131.60px;top:630.60px;width:77.40px;height:9.00px;background:#c9c7c4;"></div>
<div class="r" style="left:144.00px;top:630.60px;width:1.00px;height:9.00px;background:rgba(255,255,255,0.75);"></div>
<div class="r" style="left:156.90px;top:630.60px;width:1.00px;height:9.00px;background:rgba(255,255,255,0.75);"></div>
<div class="r" style="left:169.80px;top:630.60px;width:1.00px;height:9.00px;background:rgba(255,255,255,0.75);"></div>
<div class="r" style="left:182.70px;top:630.60px;width:1.00px;height:9.00px;background:rgba(255,255,255,0.75);"></div>
<div class="r" style="left:195.60px;top:630.60px;width:1.00px;height:9.00px;background:rgba(255,255,255,0.75);"></div>
<div class="r" style="left:131.60px;top:630.10px;width:77.40px;height:1.00px;background:rgba(255,255,255,0.75);"></div>
<div class="r" style="left:232.60px;top:630.60px;width:77.60px;height:9.00px;background:#c9c7c4;"></div>
<div class="r" style="left:245.03px;top:630.60px;width:1.00px;height:9.00px;background:rgba(255,255,255,0.75);"></div>
<div class="r" style="left:257.97px;top:630.60px;width:1.00px;height:9.00px;background:rgba(255,255,255,0.75);"></div>
<div class="r" style="left:270.90px;top:630.60px;width:1.00px;height:9.00px;background:rgba(255,255,255,0.75);"></div>
<div class="r" style="left:283.83px;top:630.60px;width:1.00px;height:9.00px;background:rgba(255,255,255,0.75);"></div>
<div class="r" style="left:296.77px;top:630.60px;width:1.00px;height:9.00px;background:rgba(255,255,255,0.75);"></div>
<div class="r" style="left:232.60px;top:630.10px;width:77.60px;height:1.00px;background:rgba(255,255,255,0.75);"></div>
<div class="t" style="left:210.60px;top:633.05px;font-size:6.6px;color:#111;">0.0%</div>
<div class="t" style="left:311.80px;top:633.05px;font-size:6.6px;color:#111;">0.0%</div>
<div class="r" style="left:19.30px;top:414.10px;width:314.00px;height:1.10px;background:#2a2a2a;"></div>
<div class="r" style="left:19.30px;top:432.10px;width:314.00px;height:1.10px;background:#2a2a2a;"></div>
<div class="r" style="left:19.30px;top:441.10px;width:314.00px;height:1.10px;background:#2a2a2a;"></div>
<div class="r" style="left:19.30px;top:468.10px;width:314.00px;height:1.10px;background:#2a2a2a;"></div>
<div class="r" style="left:19.30px;top:477.10px;width:314.00px;height:1.10px;background:#2a2a2a;"></div>
<div class="r" style="left:19.30px;top:486.10px;width:314.00px;height:1.10px;background:#2a2a2a;"></div>
<div class="r" style="left:19.30px;top:495.10px;width:314.00px;height:1.10px;background:#2a2a2a;"></div>
<div class="r" style="left:19.30px;top:513.10px;width:314.00px;height:1.10px;background:#2a2a2a;"></div>
<div class="r" style="left:19.30px;top:522.10px;width:314.00px;height:1.10px;background:#2a2a2a;"></div>
<div class="r" style="left:19.30px;top:540.10px;width:314.00px;height:1.10px;background:#2a2a2a;"></div>
<div class="r" style="left:19.30px;top:549.10px;width:314.00px;height:1.10px;background:#2a2a2a;"></div>
<div class="r" style="left:19.30px;top:567.10px;width:314.00px;height:1.10px;background:#2a2a2a;"></div>
<div class="r" style="left:19.30px;top:576.10px;width:314.00px;height:1.10px;background:#2a2a2a;"></div>
<div class="r" style="left:19.30px;top:594.10px;width:314.00px;height:1.10px;background:#2a2a2a;"></div>
<div class="r" style="left:19.30px;top:603.10px;width:314.00px;height:1.10px;background:#2a2a2a;"></div>
<div class="r" style="left:19.30px;top:639.10px;width:314.00px;height:1.10px;background:#2a2a2a;"></div>
<div class="r" style="left:18.80px;top:414.10px;width:1.10px;height:226.00px;background:#2a2a2a;"></div>
<div class="r" style="left:72.10px;top:414.10px;width:1.10px;height:226.00px;background:#2a2a2a;"></div>
<div class="r" style="left:131.10px;top:414.10px;width:1.10px;height:226.00px;background:#2a2a2a;"></div>
<div class="r" style="left:208.50px;top:414.10px;width:1.10px;height:226.00px;background:#2a2a2a;"></div>
<div class="r" style="left:232.10px;top:414.10px;width:1.10px;height:226.00px;background:#2a2a2a;"></div>
<div class="r" style="left:309.70px;top:414.10px;width:1.10px;height:226.00px;background:#2a2a2a;"></div>
<div class="r" style="left:332.80px;top:414.10px;width:1.10px;height:226.00px;background:#2a2a2a;"></div>
<div class="t" style="left:104.90px;top:641.38px;font-size:6.45px;color:#1a1a1a;font-style:italic;transform:translateX(-50%);transform:translateX(-50%) scaleY(1.05);">TP53 Del</div>
<div class="r" style="left:132.10px;top:640.00px;width:11.90px;height:8.10px;background:#9b9b9b;"></div>
<div class="r" style="left:145.00px;top:640.00px;width:11.90px;height:8.10px;background:#e12a2a;"></div>
<div class="r" style="left:157.90px;top:640.00px;width:11.90px;height:8.10px;background:#9b9b9b;"></div>
<div class="r" style="left:170.80px;top:640.00px;width:11.90px;height:8.10px;background:#e12a2a;"></div>
<div class="r" style="left:183.70px;top:640.00px;width:11.90px;height:8.10px;background:#9b9b9b;"></div>
<div class="r" style="left:196.60px;top:640.00px;width:11.90px;height:8.10px;background:#9b9b9b;"></div>
<div class="r" style="left:233.10px;top:640.00px;width:11.93px;height:8.10px;background:#9b9b9b;"></div>
<div class="r" style="left:246.03px;top:640.00px;width:11.93px;height:8.10px;background:#e12a2a;"></div>
<div class="r" style="left:258.97px;top:640.00px;width:11.93px;height:8.10px;background:#9b9b9b;"></div>
<div class="r" style="left:271.90px;top:640.00px;width:11.93px;height:8.10px;background:#e12a2a;"></div>
<div class="r" style="left:284.83px;top:640.00px;width:11.93px;height:8.10px;background:#9b9b9b;"></div>
<div class="r" style="left:297.77px;top:640.00px;width:11.93px;height:8.10px;background:#9b9b9b;"></div>
<div class="t" style="left:104.90px;top:650.48px;font-size:6.45px;color:#1a1a1a;font-style:italic;transform:translateX(-50%);transform:translateX(-50%) scaleY(1.05);">ATM Del</div>
<div class="r" style="left:132.10px;top:649.10px;width:11.90px;height:8.10px;background:#e12a2a;"></div>
<div class="r" style="left:145.00px;top:649.10px;width:11.90px;height:8.10px;background:#9b9b9b;"></div>
<div class="r" style="left:157.90px;top:649.10px;width:11.90px;height:8.10px;background:#e12a2a;"></div>
<div class="r" style="left:170.80px;top:649.10px;width:11.90px;height:8.10px;background:#9b9b9b;"></div>
<div class="r" style="left:183.70px;top:649.10px;width:11.90px;height:8.10px;background:#9b9b9b;"></div>
<div class="r" style="left:196.60px;top:649.10px;width:11.90px;height:8.10px;background:#9b9b9b;"></div>
<div class="r" style="left:233.10px;top:649.10px;width:11.93px;height:8.10px;background:#e12a2a;"></div>
<div class="r" style="left:246.03px;top:649.10px;width:11.93px;height:8.10px;background:#9b9b9b;"></div>
<div class="r" style="left:258.97px;top:649.10px;width:11.93px;height:8.10px;background:#9b9b9b;"></div>
<div class="r" style="left:271.90px;top:649.10px;width:11.93px;height:8.10px;background:#9b9b9b;"></div>
<div class="r" style="left:284.83px;top:649.10px;width:11.93px;height:8.10px;background:#9b9b9b;"></div>
<div class="r" style="left:297.77px;top:649.10px;width:11.93px;height:8.10px;background:#9b9b9b;"></div>
<div class="t" style="left:104.90px;top:659.58px;font-size:6.45px;color:#1a1a1a;font-style:italic;transform:translateX(-50%);transform:translateX(-50%) scaleY(1.05);">13q14 Del</div>
<div class="r" style="left:132.10px;top:658.20px;width:11.90px;height:8.10px;background:#9b9b9b;"></div>
<div class="r" style="left:145.00px;top:658.20px;width:11.90px;height:8.10px;background:#e12a2a;"></div>
<div class="r" style="left:157.90px;top:658.20px;width:11.90px;height:8.10px;background:#9b9b9b;"></div>
<div class="r" style="left:170.80px;top:658.20px;width:11.90px;height:8.10px;background:#9b9b9b;"></div>
<div class="r" style="left:183.70px;top:658.20px;width:11.90px;height:8.10px;background:#9b9b9b;"></div>
<div class="r" style="left:196.60px;top:658.20px;width:11.90px;height:8.10px;background:#9b9b9b;"></div>
<div class="r" style="left:233.10px;top:658.20px;width:11.93px;height:8.10px;background:#9b9b9b;"></div>
<div class="r" style="left:246.03px;top:658.20px;width:11.93px;height:8.10px;background:#e12a2a;"></div>
<div class="r" style="left:258.97px;top:658.20px;width:11.93px;height:8.10px;background:#9b9b9b;"></div>
<div class="r" style="left:271.90px;top:658.20px;width:11.93px;height:8.10px;background:#9b9b9b;"></div>
<div class="r" style="left:284.83px;top:658.20px;width:11.93px;height:8.10px;background:#9b9b9b;"></div>
<div class="r" style="left:297.77px;top:658.20px;width:11.93px;height:8.10px;background:#9b9b9b;"></div>
<div class="t" style="left:104.90px;top:668.68px;font-size:6.45px;color:#1a1a1a;font-style:italic;transform:translateX(-50%);transform:translateX(-50%) scaleY(1.05);">Trisomy 12</div>
<div class="r" style="left:132.10px;top:667.30px;width:11.90px;height:8.10px;background:#9b9b9b;"></div>
<div class="r" style="left:145.00px;top:667.30px;width:11.90px;height:8.10px;background:#9b9b9b;"></div>
<div class="r" style="left:157.90px;top:667.30px;width:11.90px;height:8.10px;background:#9b9b9b;"></div>
<div class="r" style="left:170.80px;top:667.30px;width:11.90px;height:8.10px;background:#9b9b9b;"></div>
<div class="r" style="left:183.70px;top:667.30px;width:11.90px;height:8.10px;background:#9b9b9b;"></div>
<div class="r" style="left:196.60px;top:667.30px;width:11.90px;height:8.10px;background:#e12a2a;"></div>
<div class="r" style="left:233.10px;top:667.30px;width:11.93px;height:8.10px;background:#9b9b9b;"></div>
<div class="r" style="left:246.03px;top:667.30px;width:11.93px;height:8.10px;background:#9b9b9b;"></div>
<div class="r" style="left:258.97px;top:667.30px;width:11.93px;height:8.10px;background:#9b9b9b;"></div>
<div class="r" style="left:271.90px;top:667.30px;width:11.93px;height:8.10px;background:#9b9b9b;"></div>
<div class="r" style="left:284.83px;top:667.30px;width:11.93px;height:8.10px;background:#9b9b9b;"></div>
<div class="r" style="left:297.77px;top:667.30px;width:11.93px;height:8.10px;background:#e12a2a;"></div>
</body></html>
